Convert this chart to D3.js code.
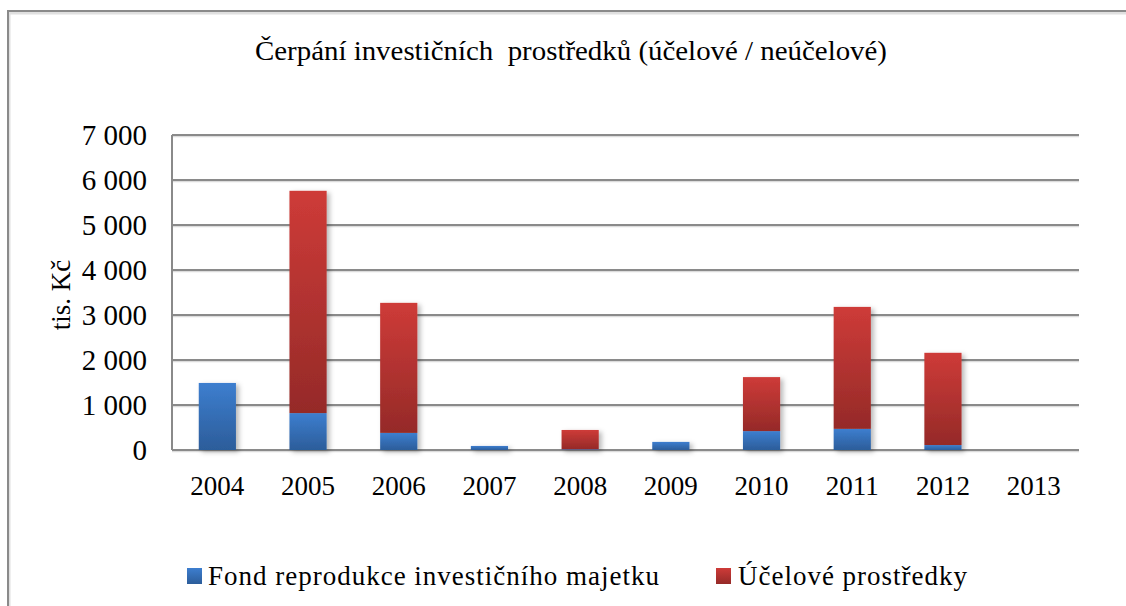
<!DOCTYPE html>
<html>
<head>
<meta charset="utf-8">
<script src="https://cdn.jsdelivr.net/npm/d3@7"></script>
<style>
  html, body { margin: 0; padding: 0; background: #fff; }
  svg { display: block; }
  svg text { font-family: "Liberation Serif", Tinos, "Times New Roman", "DejaVu Serif", serif; }
</style>
</head>
<body>
<svg id="chart" width="1126" height="606"></svg>
<script>
// data (tis. Kč)
var years = ['2004', '2005', '2006', '2007', '2008', '2009', '2010', '2011', '2012', '2013'];
var fondValues = [1490, 820, 380, 90, 15, 180, 420, 470, 110, 0];
var ucelValues = [0, 4940, 2890, 0, 430, 0, 1200, 2710, 2050, 0];
var yTicks = [0, 1000, 2000, 3000, 4000, 5000, 6000, 7000];
var seriesNames = ['Fond reprodukce investičního majetku', 'Účelové prostředky'];

var svg = d3.select('#chart');
var plot = {left: 172, right: 1079, top: 135, bottom: 450};

var defs = svg.append('defs');

function addGrad(id, top, bottom) {
  var g = defs.append('linearGradient')
    .attr('id', id)
    .attr('x1', '0').attr('x2', '0').attr('y1', '0').attr('y2', '1');
  g.append('stop').attr('offset', '0%').attr('stop-color', top);
  g.append('stop').attr('offset', '100%').attr('stop-color', bottom);
}
addGrad('blueGrad', '#3d7ecf', '#2c5d9a');
addGrad('redGrad', '#ce3b38', '#952a28');

var shadow = defs.append('filter').attr('id', 'shadow')
  .attr('x', '-20%').attr('y', '-5%').attr('width', '150%').attr('height', '115%');
shadow.append('feDropShadow')
  .attr('dx', 3).attr('dy', 2).attr('stdDeviation', 2.5)
  .attr('flood-color', '#000').attr('flood-opacity', 0.28);

// outer frame (runs past the right and bottom edge)
svg.append('path')
  .attr('d', 'M1130,12 H8 V610')
  .attr('fill', 'none').attr('stroke', '#e0e0e0').attr('stroke-width', 3)
  .attr('transform', 'translate(1,1)');
svg.append('path')
  .attr('d', 'M1130,11 H8 V610')
  .attr('fill', 'none').attr('stroke', '#8a8a8a').attr('stroke-width', 2);

svg.append('text')
  .attr('x', 571).attr('y', 60)
  .attr('text-anchor', 'middle')
  .attr('font-size', 27)
  .attr('textLength', 632)
  .attr('lengthAdjust', 'spacingAndGlyphs')
  .style('white-space', 'pre')
  .text('Čerpání investičních  prostředků (účelové / neúčelové)');

var x = d3.scaleBand()
  .domain(years)
  .range([plot.left, plot.right])
  .paddingInner(0.59)
  .paddingOuter(0.295);

var y = d3.scaleLinear().domain([0, 7000]).range([plot.bottom, plot.top]);

// gridlines
var grid = svg.append('g');
grid.selectAll('line.shade')
  .data(yTicks).enter().append('line')
  .attr('class', 'shade')
  .attr('x1', plot.left).attr('x2', plot.right)
  .attr('y1', function(d) { return y(d) + 1.5; })
  .attr('y2', function(d) { return y(d) + 1.5; })
  .attr('stroke', '#dcdcdc').attr('stroke-width', 1.5);
grid.selectAll('line.grid')
  .data(yTicks).enter().append('line')
  .attr('class', 'grid')
  .attr('x1', plot.left).attr('x2', plot.right)
  .attr('y1', function(d) { return y(d); })
  .attr('y2', function(d) { return y(d); })
  .attr('stroke', '#8a8a8a').attr('stroke-width', 2);

// left axis line
svg.append('line')
  .attr('x1', plot.left).attr('x2', plot.left)
  .attr('y1', plot.top).attr('y2', plot.bottom)
  .attr('stroke', '#8a8a8a').attr('stroke-width', 2);

// stacked bars
var rows = years.map(function(yr, i) {
  return {year: yr, fond: fondValues[i], ucel: ucelValues[i]};
});
var stacked = d3.stack().keys(['fond', 'ucel'])(rows);
var fills = ['url(#blueGrad)', 'url(#redGrad)'];

var barG = svg.append('g').attr('filter', 'url(#shadow)');
stacked.forEach(function(layer, k) {
  barG.selectAll('rect.s' + k)
    .data(layer.filter(function(d) { return d[1] - d[0] > 0; }))
    .enter().append('rect')
    .attr('class', 's' + k)
    .attr('x', function(d) { return x(d.data.year); })
    .attr('width', x.bandwidth())
    .attr('y', function(d) { return y(d[1]); })
    .attr('height', function(d) { return y(d[0]) - y(d[1]); })
    .attr('fill', fills[k]);
});

// y axis labels
var yAxis = svg.append('g')
  .attr('transform', 'translate(' + (plot.left - 25) + ',0)')
  .call(d3.axisLeft(y).tickValues(yTicks).tickSize(0).tickPadding(0)
    .tickFormat(function(d) { return d3.format(',')(d).replace(/,/g, ' '); }));
yAxis.select('.domain').remove();
yAxis.attr('font-family', null);
yAxis.selectAll('text')
  .attr('font-size', 29).attr('fill', '#000');

// x axis labels
var xAxis = svg.append('g')
  .attr('transform', 'translate(0,' + plot.bottom + ')')
  .call(d3.axisBottom(x).tickSize(0).tickPadding(0));
xAxis.select('.domain').remove();
xAxis.attr('font-family', null);
xAxis.selectAll('text')
  .attr('dy', null).attr('y', 45)
  .attr('font-size', 27).attr('fill', '#000');

// y axis title
svg.append('text')
  .attr('transform', 'translate(70,295) rotate(-90)')
  .attr('text-anchor', 'middle')
  .attr('font-size', 27)
  .text('tis. Kč');

// legend
var legendItems = [
  {name: seriesNames[0], fill: fills[0], sx: 187, tx: 208, w: 451},
  {name: seriesNames[1], fill: fills[1], sx: 716, tx: 738, w: 229}
];
var lg = svg.append('g');
lg.selectAll('rect').data(legendItems).enter().append('rect')
  .attr('x', function(d) { return d.sx; })
  .attr('y', 568)
  .attr('width', 15).attr('height', 16)
  .attr('fill', function(d) { return d.fill; });
lg.selectAll('text').data(legendItems).enter().append('text')
  .attr('x', function(d) { return d.tx; })
  .attr('y', 585)
  .attr('font-size', 27)
  .attr('textLength', function(d) { return d.w; })
  .attr('lengthAdjust', 'spacing')
  .text(function(d) { return d.name; });
</script>
</body>
</html>
